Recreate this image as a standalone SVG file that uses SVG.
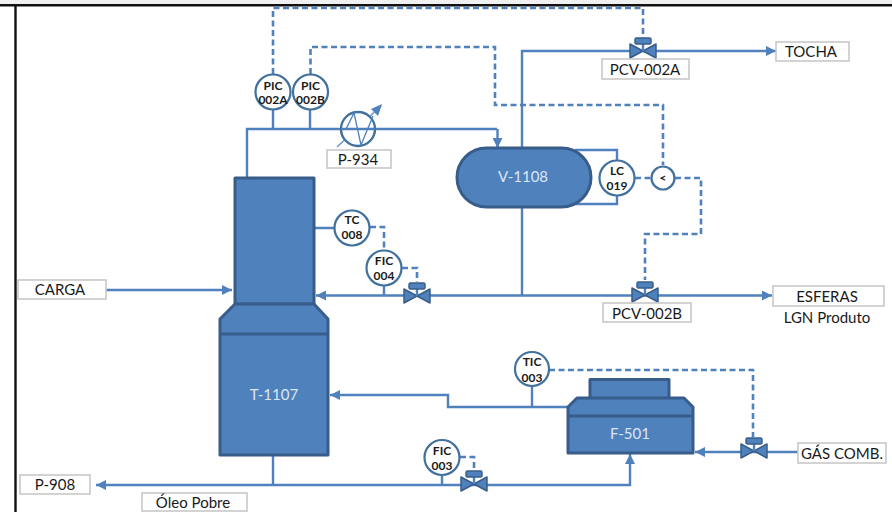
<svg xmlns="http://www.w3.org/2000/svg" width="892" height="512" viewBox="0 0 892 512">
<style>
text{font-family:"Lato","Open Sans","Liberation Sans",sans-serif;}
.l{fill:none;stroke:#4f81bd;stroke-width:2.4;}
.d{fill:none;stroke:#4f81bd;stroke-width:2.6;stroke-dasharray:6 3.5;}
.e{fill:#4f81bd;stroke:#385d8a;stroke-width:3;stroke-linejoin:round;}
.b{fill:#fff;stroke:#c8c8c8;stroke-width:1.6;}
.t{font-size:15px;fill:#1a1a1a;text-anchor:middle;}
.i{fill:#fff;stroke:#41719c;stroke-width:2.2;}
.it{font-size:12px;font-weight:700;fill:#1a1a1a;text-anchor:middle;}
.w{font-size:15px;fill:#dce6f2;text-anchor:middle;}
.v{fill:#4f81bd;stroke:#385d8a;stroke-width:1.5;stroke-linejoin:round;}
</style>
<defs>
<marker id="a" markerUnits="userSpaceOnUse" markerWidth="11" markerHeight="10" refX="10" refY="5" orient="auto"><path d="M0 0L10 5L0 10Z" fill="#4f81bd"/></marker>
<g id="valve"><path class="v" d="M-13 -7L13 7V-7L-13 7Z"/><path d="M0 0V-9" class="l"/><rect class="v" x="-8" y="-13" width="16" height="6" rx="1.5"/></g>
</defs>
<rect width="892" height="512" fill="#fff"/>
<rect y="0" width="892" height="4" fill="#f0f0f0"/>
<path d="M0 5.200H892" stroke="#111" stroke-width="2.600"/>
<path d="M15.500 5V512" stroke="#111" stroke-width="2.400"/>
<g id="connectors">
<path class="l" d="M247 177V129H497" />
<path class="l" d="M497.500 129V148" marker-end="url(#a)"/>
<path class="l" d="M273 110V129M310 110V129"/>
<path d="M337 147L381 106" fill="none" stroke="#6f9bd0" stroke-width="1.6" />
<path d="M382 104L371 109L378 116Z" fill="#4f81bd"/>
<path class="l" d="M522 148V51H776" marker-end="url(#a)"/>
<path class="l" d="M522 207V296"/>
<path class="l" d="M522 295.500H316" marker-end="url(#a)"/>
<path class="l" d="M522 295.500H772" marker-end="url(#a)"/>
<path class="l" d="M575 150H617V160M617 196V204H575"/>
<path class="l" d="M384 286V296M315 228H334"/>
<path class="l" d="M106 290H232" marker-end="url(#a)"/>
<path class="l" d="M568 407H448V395H330" marker-end="url(#a)"/>
<path class="l" d="M532 386V407"/>
<path class="l" d="M798 452H695" marker-end="url(#a)"/>
<path class="l" d="M273 455V485"/>
<path class="l" d="M273 485H96" marker-end="url(#a)"/>
<path class="l" d="M273 485H630V454" marker-end="url(#a)"/>
<path class="l" d="M442 475V485"/>
<path class="d" d="M273 74V8H643V38"/>
<path class="d" d="M310.500 74V47H495V105H663V165"/>
<path class="d" d="M635 178H651M675 178H701V234H645V280"/>
<path class="d" d="M370 227H384V250M402 268H417V282"/>
<path class="d" d="M549 370H753V437"/>
<path class="d" d="M460 457H474V468"/>
</g>
<g id="T-1107">
<path class="e" d="M235 178H314V304H235Z"/>
<path class="e" d="M235 304H314L328 319V455H220V319Z"/>
<path d="M220 334H328" stroke="#385d8a" stroke-width="3"/>
<text class="w" x="274" y="400">T-1107</text>
</g>
<g id="V-1108">
<rect class="e" x="457" y="148" width="134" height="59" rx="29.500"/>
<text class="w" x="523" y="182">V-1108</text>
</g>
<g id="F-501">
<rect class="e" x="590" y="379.500" width="79" height="19"/>
<path class="e" d="M577 398H684L693 407V453H568V407Z"/>
<path d="M568 416H693" stroke="#385d8a" stroke-width="3"/>
<text class="w" x="630" y="439">F-501</text>
</g>
<g id="P-934">
<circle cx="358" cy="129" r="17" fill="#fff" stroke="#41719c" stroke-width="2.400"/>
<path d="M341 129H346L354 113L361 145L373 116" fill="none" stroke="#4f81bd" stroke-width="1.300"/>
<path class="l" d="M341 129H375"/>
<rect class="b" x="327" y="150" width="64" height="18"/>
<text class="t" x="358" y="165">P-934</text>
</g>
<g id="PIC-002A"><circle class="i" cx="273" cy="92" r="17.500"/><text class="it" x="273" y="90">PIC</text><text class="it" x="273" y="104">002A</text></g>
<g id="PIC-002B"><circle class="i" cx="310.500" cy="92" r="17.500"/><text class="it" x="310.500" y="90">PIC</text><text class="it" x="310.500" y="104">002B</text></g>
<g id="LC-019"><circle class="i" cx="617" cy="178" r="17.500"/><text class="it" x="617" y="175">LC</text><text class="it" x="617" y="190">019</text></g>
<g id="selector"><circle class="i" cx="663" cy="178" r="11.500"/><text class="it" x="663" y="182">&lt;</text></g>
<g id="TC-008"><circle class="i" cx="352" cy="228" r="17.500"/><text class="it" x="352" y="224">TC</text><text class="it" x="352" y="239">008</text></g>
<g id="FIC-004"><circle class="i" cx="384" cy="268" r="17.500"/><text class="it" x="384" y="265">FIC</text><text class="it" x="384" y="280">004</text></g>
<g id="TIC-003"><circle class="i" cx="532" cy="369" r="17"/><text class="it" x="532" y="366">TIC</text><text class="it" x="532" y="382">003</text></g>
<g id="FIC-003"><circle class="i" cx="442" cy="457.500" r="17.500"/><text class="it" x="442" y="455">FIC</text><text class="it" x="442" y="470">003</text></g>
<g id="PCV-002A"><use href="#valve" x="643" y="51"/><rect class="b" x="602" y="59" width="87" height="20"/><text class="t" x="645" y="75">PCV-002A</text></g>
<g id="PCV-002B"><use href="#valve" x="645" y="295"/><rect class="b" x="603" y="303" width="88" height="19"/><text class="t" x="647" y="319">PCV-002B</text></g>
<g id="FV-004"><use href="#valve" x="417" y="296"/></g>
<g id="FV-003"><use href="#valve" x="474" y="484"/></g>
<g id="FV-GAS"><use href="#valve" x="754" y="451"/></g>
<g id="TOCHA"><rect class="b" x="776" y="42" width="73" height="19"/><text class="t" x="811" y="57">TOCHA</text></g>
<g id="ESFERAS"><rect class="b" x="773" y="286" width="111" height="20"/><text class="t" x="827" y="302">ESFERAS</text><text class="t" x="827" y="323">LGN Produto</text></g>
<g id="CARGA"><rect class="b" x="18" y="280" width="88" height="19"/><text class="t" x="60" y="295">CARGA</text></g>
<g id="GAS"><rect class="b" x="798" y="443" width="88" height="20"/><text class="t" x="842" y="459">GÁS COMB.</text></g>
<g id="P-908"><rect class="b" x="20" y="475" width="70" height="19"/><text class="t" x="55" y="490">P-908</text></g>
<g id="OLEO"><rect class="b" x="142" y="493" width="105" height="18"/><text class="t" x="193" y="508">Óleo Pobre</text></g>
</svg>
